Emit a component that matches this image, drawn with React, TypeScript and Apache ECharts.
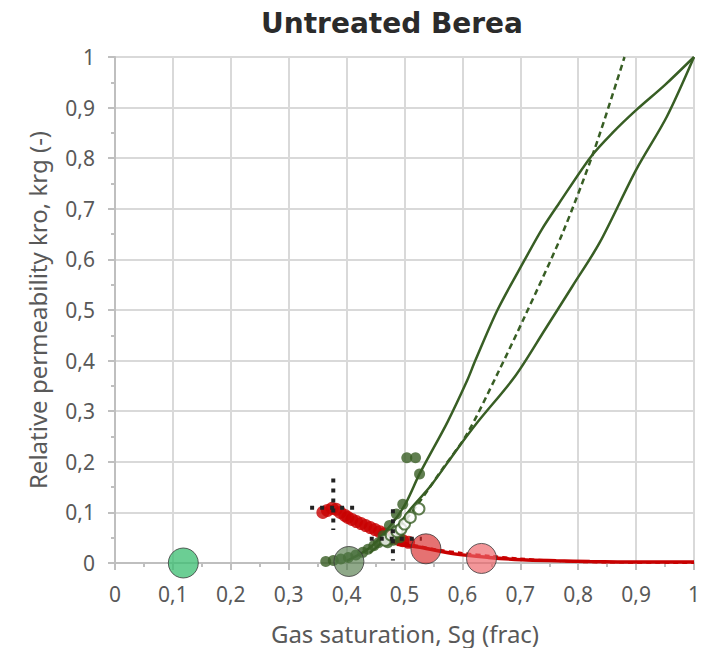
import React, { useEffect, useRef } from "react";
import * as echarts from "echarts";

// Upper (concave) solid krg curve
const krgCurveA: [number, number][] = [
  [0.40, 0.004], [0.44, 0.03], [0.48, 0.08], [0.503, 0.12], [0.526, 0.176],
  [0.574, 0.278], [0.608, 0.36], [0.623, 0.402], [0.661, 0.501], [0.708, 0.60],
  [0.737, 0.659], [0.767, 0.711], [0.822, 0.803], [0.86, 0.851], [0.9, 0.895],
  [0.95, 0.945], [1.0, 1.0],
];
// Lower (convex) solid krg curve
const krgCurveB: [number, number][] = [
  [0.44, 0.02], [0.48, 0.06], [0.51, 0.106], [0.545, 0.152], [0.591, 0.225],
  [0.626, 0.278], [0.691, 0.369], [0.743, 0.462], [0.79, 0.547], [0.837, 0.633],
  [0.9, 0.777], [0.953, 0.882], [1.0, 1.0],
];
// Dashed krg fit
const krgFit: [number, number][] = [
  [0.47, 0.04], [0.521, 0.113], [0.565, 0.185], [0.608, 0.255], [0.661, 0.375],
  [0.708, 0.488], [0.773, 0.652], [0.828, 0.817], [0.88, 1.0],
];
// Measured krg (filled dots)
const krgDots: [number, number][] = [
  [0.364, 0.003], [0.377, 0.005], [0.39, 0.008], [0.403, 0.011], [0.416, 0.016],
  [0.428, 0.021], [0.437, 0.027], [0.447, 0.034], [0.455, 0.04], [0.463, 0.046],
  [0.471, 0.04], [0.481, 0.045], [0.492, 0.05], [0.463, 0.054], [0.474, 0.074],
  [0.486, 0.097], [0.497, 0.116], [0.526, 0.176], [0.504, 0.208], [0.519, 0.208],
];
// Measured krg (open circles)
const krgOpen: [number, number][] = [
  [0.467, 0.045], [0.477, 0.055], [0.487, 0.062], [0.494, 0.067], [0.5, 0.077],
  [0.51, 0.09], [0.525, 0.107],
];
// Measured kro (red dots)
const kroDots: [number, number][] = [
  [0.359, 0.1], [0.367, 0.104], [0.375, 0.108], [0.382, 0.106], [0.389, 0.1],
  [0.397, 0.094], [0.402, 0.09], [0.409, 0.086], [0.417, 0.082], [0.425, 0.078],
  [0.433, 0.074], [0.441, 0.07], [0.449, 0.066], [0.457, 0.062], [0.465, 0.058],
  [0.473, 0.054], [0.481, 0.05], [0.489, 0.047], [0.497, 0.044], [0.507, 0.041],
];
// kro curve (solid red)
const kroCurve: [number, number][] = [
  [0.487, 0.037], [0.527, 0.031], [0.586, 0.018], [0.645, 0.011], [0.703, 0.0065],
  [0.762, 0.0045], [0.82, 0.003], [0.9, 0.002], [1.0, 0.002],
];
// kro fit (dashed red)
const kroFit: [number, number][] = [
  [0.5, 0.04], [0.55, 0.028], [0.6, 0.02], [0.65, 0.014], [0.7, 0.009],
  [0.75, 0.005], [0.8, 0.002], [0.85, 0.001], [1.0, 0.0],
];
// Error crosses
const crossA_v: [number, number][] = [[0.377, 0.167], [0.377, 0.065]];
const crossA_h: [number, number][] = [[0.337, 0.109], [0.423, 0.109]];
const crossB_v: [number, number][] = [[0.48, 0.106], [0.48, 0.005]];
const crossB_h: [number, number][] = [[0.44, 0.048], [0.53, 0.048]];
// Big marker circles
const bigGreen: [number, number][] = [[0.118, 0.0]];
const bigDarkGreen: [number, number][] = [[0.404, 0.003]];
const bigRed: [number, number][] = [[0.537, 0.028]];
const bigPink: [number, number][] = [[0.633, 0.009]];

const xTicks = { min: 0, max: 1, interval: 0.1 };
const yTicks = { min: 0, max: 1, interval: 0.1 };
const titleText = "Untreated Berea";
const xName = "Gas saturation, Sg (frac)";
const yName = "Relative permeability kro, krg (-)";

const GREEN = "#385e24";
const RED = "#c80000";
const fmt = (v: number) => String(+v.toFixed(1)).replace(".", ",");

export default function App() {
  const ref = useRef<HTMLDivElement>(null);
  useEffect(() => {
    const chart = echarts.init(ref.current!, undefined, { renderer: "svg" });
    const lineS = (data: [number, number][], color: string, width: number, type: any = "solid", z = 2) => ({
      type: "line",
      data,
      showSymbol: false,
      symbol: "none",
      smooth: 0.3,
      lineStyle: { color, width, type },
      z,
    });
    const big = (data: [number, number][], color: string) => ({
      type: "scatter",
      data,
      symbolSize: 30,
      itemStyle: { color, borderColor: "#3a3a3a", borderWidth: 1 },
      z: 10,
    });
    const cross = (data: [number, number][]) => ({
      type: "line",
      data,
      symbol: "none",
      lineStyle: { color: "#222", width: 4, type: [4, 6] },
      z: 8,
    });
    const axisCommon = {
      axisLine: { show: true, lineStyle: { color: "#bfbfbf", width: 2 } },
      axisTick: { show: true, length: 7, lineStyle: { color: "#bfbfbf", width: 2 } },
      minorTick: { show: true, splitNumber: 2, length: 4, lineStyle: { color: "#bfbfbf", width: 2 } },
      splitLine: { show: true, lineStyle: { color: "#d9d9d9", width: 2 } },
      axisLabel: { formatter: fmt, margin: 20, fontFamily: "Noto Sans", fontSize: 21, color: "#595959" },
    };
    const nameStyle = { fontFamily: "Noto Sans", fontSize: 24, fill: "#595959", align: "center", verticalAlign: "middle" };
    chart.setOption({
      animation: false,
      graphic: [
        {
          type: "text",
          x: 384,
          y: 15,
          style: {
            text: titleText,
            fontFamily: "DejaVu Sans",
            fontWeight: "bold",
            fontSize: 28,
            fill: "#2b2b2b",
            align: "center",
            verticalAlign: "middle",
          },
        },
        { type: "text", x: 397, y: 625, style: { text: xName, ...nameStyle } },
        { type: "text", x: 29, y: 302, rotation: Math.PI / 2, style: { text: yName, ...nameStyle } },
      ],
      grid: { left: 107, top: 49, width: 579, height: 506 },
      xAxis: { type: "value", ...xTicks, ...axisCommon },
      yAxis: { type: "value", ...yTicks, ...axisCommon },
      series: [
        lineS(kroFit, RED, 2, [5, 4], 3),
        lineS(kroCurve, RED, 3.5, "solid", 3),
        {
          type: "scatter",
          data: kroDots,
          symbolSize: 13,
          itemStyle: { color: RED },
          z: 4,
        },
        lineS(krgFit, GREEN, 2.5, [6, 4], 5),
        lineS(krgCurveA, GREEN, 2.5, "solid", 5),
        lineS(krgCurveB, GREEN, 2.5, "solid", 5),
        {
          type: "scatter",
          data: krgDots,
          symbolSize: 11,
          itemStyle: { color: GREEN },
          z: 6,
        },
        {
          type: "scatter",
          data: krgOpen,
          symbolSize: 11,
          itemStyle: { color: "#ffffff", borderColor: GREEN, borderWidth: 2 },
          z: 6,
        },
        cross(crossA_v),
        cross(crossA_h),
        cross(crossB_v),
        cross(crossB_h),
        big(bigGreen, "rgba(60,190,115,0.95)"),
        big(bigDarkGreen, "rgba(80,120,70,0.8)"),
        big(bigRed, "rgba(215,35,35,0.8)"),
        big(bigPink, "rgba(238,100,105,0.85)"),
      ],
    });
    return () => chart.dispose();
  }, []);
  return <div ref={ref} style={{ width: 703, height: 640 }} />;
}
